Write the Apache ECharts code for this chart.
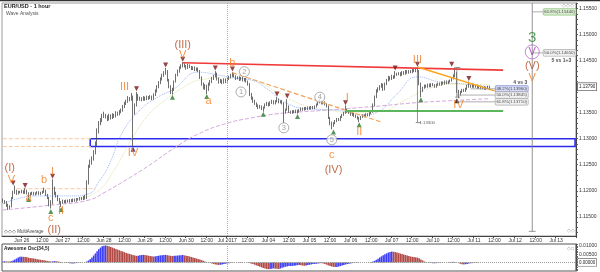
<!DOCTYPE html>
<html><head><meta charset="utf-8">
<script src="https://cdn.jsdelivr.net/npm/echarts@6/dist/echarts.min.js"></script>
<style>html,body{margin:0;padding:0;background:#fff}#c{width:600px;height:272px}</style>
</head><body><div id="c"></div>
<script>
// ---- time axis (hourly, weekends skipped) ----
const sessions = [['Jun 23',13,20],['Jun 25',21,23],['Jun 26',0,23],['Jun 27',0,23],['Jun 28',0,23],['Jun 29',0,23],['Jun 30',0,20],
  ['Jul 02',21,23],['Jul 03',0,23],['Jul 04',0,23],['Jul 05',0,23],['Jul 06',0,23],['Jul 07',0,20],
  ['Jul 09',21,23],['Jul 10',0,23],['Jul 11',0,23],['Jul 12',0,23],['Jul 13',0,11]];
const dayTickLabels = {'Jun 26':'Jun 26','Jun 27':'Jun 27','Jun 28':'Jun 28','Jun 29':'Jun 29','Jun 30':'Jun 30',
  'Jul 03':'Jul 2017','Jul 04':'Jul 04','Jul 05':'Jul 05','Jul 06':'Jul 06','Jul 07':'Jul 07',
  'Jul 10':'Jul 10','Jul 11':'Jul 11','Jul 12':'Jul 12','Jul 13':'Jul 13'};
const monthStartCategory = 'Jul 03 00:00';
const priceTickLabels = [1.115,1.120,1.125,1.130,1.135,1.145,1.150,1.155];
const aoTickLabels = [0.005,0.010];

// ---- EUR/USD 1h candles ----
const opens = [
1.1182,1.1180,1.1178,1.1172,1.1168,1.1170,1.1186,1.1196,1.1200,1.1195,1.1198,1.1197,
1.1199,1.1196,1.1200,1.1195,1.1192,1.1194,1.1196,1.1193,1.1195,1.1197,1.1194,1.1196,
1.1198,1.1200,1.1192,1.1186,1.1180,1.1176,1.1205,1.1195,1.1190,1.1183,1.1178,1.1177,
1.1180,1.1178,1.1181,1.1179,1.1182,1.1180,1.1183,1.1181,1.1184,1.1183,1.1186,1.1184,
1.1188,1.1186,1.1215,1.1248,1.1255,1.1262,1.1275,1.1290,1.1315,1.1330,1.1335,1.1344,
1.1346,1.1342,1.1338,1.1345,1.1340,1.1346,1.1343,1.1350,1.1347,1.1352,1.1355,1.1362,
1.1368,1.1372,1.1378,1.1375,1.1380,1.1350,1.1365,1.1382,1.1376,1.1378,1.1375,1.1379,
1.1376,1.1380,1.1378,1.1381,1.1377,1.1384,1.1392,1.1400,1.1408,1.1415,1.1422,1.1426,
1.1430,1.1412,1.1400,1.1392,1.1395,1.1410,1.1422,1.1430,1.1436,1.1440,1.1443,1.1440,
1.1436,1.1441,1.1438,1.1434,1.1437,1.1432,1.1435,1.1430,1.1418,1.1405,1.1398,1.1402,
1.1395,1.1405,1.1410,1.1416,1.1420,1.1425,1.1415,1.1410,1.1412,1.1408,1.1414,1.1410,
1.1416,1.1418,1.1422,1.1424,1.1420,1.1416,1.1418,1.1414,1.1417,1.1412,1.1415,1.1410,
1.1405,1.1385,1.1378,1.1372,1.1368,1.1364,1.1360,1.1362,1.1358,1.1360,1.1366,1.1368,
1.1365,1.1370,1.1372,1.1368,1.1372,1.1375,1.1370,1.1372,1.1368,1.1350,1.1356,1.1362,
1.1352,1.1350,1.1353,1.1351,1.1354,1.1352,1.1355,1.1358,1.1356,1.1359,1.1357,1.1360,
1.1358,1.1361,1.1359,1.1362,1.1366,1.1370,1.1372,1.1368,1.1370,1.1366,1.1362,1.1340,
1.1330,1.1326,1.1330,1.1334,1.1338,1.1336,1.1342,1.1346,1.1350,1.1356,1.1352,1.1350,
1.1346,1.1348,1.1344,1.1342,1.1340,1.1338,1.1342,1.1345,1.1343,1.1347,1.1345,1.1349,
1.1352,1.1365,1.1380,1.1392,1.1396,1.1400,1.1404,1.1395,1.1405,1.1412,1.1418,1.1415,
1.1420,1.1418,1.1425,1.1424,1.1426,1.1423,1.1428,1.1425,1.1430,1.1427,1.1430,1.1428,
1.1432,1.1430,1.1434,1.1430,1.1405,1.1392,1.1398,1.1402,1.1400,1.1404,1.1401,1.1405,
1.1403,1.1400,1.1404,1.1406,1.1404,1.1408,1.1406,1.1410,1.1407,1.1410,1.1412,1.1416,
1.1420,1.1425,1.1392,1.1385,1.1390,1.1394,1.1392,1.1396,1.1402,1.1402,1.1400,1.1404,
1.1400,1.1402,1.1398,1.1400,1.1397,1.1399,1.1396,1.1398,1.1400];
const closes = [
1.1180,1.1178,1.1172,1.1168,1.1170,1.1186,1.1196,1.1200,1.1195,1.1198,1.1197,1.1199,
1.1196,1.1200,1.1195,1.1192,1.1194,1.1196,1.1193,1.1195,1.1197,1.1194,1.1196,1.1198,
1.1200,1.1192,1.1186,1.1180,1.1176,1.1205,1.1195,1.1190,1.1183,1.1178,1.1177,1.1180,
1.1178,1.1181,1.1179,1.1182,1.1180,1.1183,1.1181,1.1184,1.1183,1.1186,1.1184,1.1188,
1.1186,1.1215,1.1248,1.1255,1.1262,1.1275,1.1290,1.1315,1.1330,1.1335,1.1344,1.1346,
1.1342,1.1338,1.1345,1.1340,1.1346,1.1343,1.1350,1.1347,1.1352,1.1355,1.1362,1.1368,
1.1372,1.1378,1.1375,1.1380,1.1350,1.1365,1.1382,1.1376,1.1378,1.1375,1.1379,1.1376,
1.1380,1.1378,1.1381,1.1377,1.1384,1.1392,1.1400,1.1408,1.1415,1.1422,1.1426,1.1430,
1.1412,1.1400,1.1392,1.1395,1.1410,1.1422,1.1430,1.1436,1.1440,1.1443,1.1440,1.1436,
1.1441,1.1438,1.1434,1.1437,1.1432,1.1435,1.1430,1.1418,1.1405,1.1398,1.1402,1.1395,
1.1405,1.1410,1.1416,1.1420,1.1425,1.1415,1.1410,1.1412,1.1408,1.1414,1.1410,1.1416,
1.1418,1.1422,1.1424,1.1420,1.1416,1.1418,1.1414,1.1417,1.1412,1.1415,1.1410,1.1405,
1.1385,1.1378,1.1372,1.1368,1.1364,1.1360,1.1362,1.1358,1.1360,1.1366,1.1368,1.1365,
1.1370,1.1372,1.1368,1.1372,1.1375,1.1370,1.1372,1.1368,1.1350,1.1356,1.1362,1.1352,
1.1350,1.1353,1.1351,1.1354,1.1352,1.1355,1.1358,1.1356,1.1359,1.1357,1.1360,1.1358,
1.1361,1.1359,1.1362,1.1366,1.1370,1.1372,1.1368,1.1370,1.1366,1.1362,1.1340,1.1330,
1.1326,1.1330,1.1334,1.1338,1.1336,1.1342,1.1346,1.1350,1.1356,1.1352,1.1350,1.1346,
1.1348,1.1344,1.1342,1.1340,1.1338,1.1342,1.1345,1.1343,1.1347,1.1345,1.1349,1.1352,
1.1365,1.1380,1.1392,1.1396,1.1400,1.1404,1.1395,1.1405,1.1412,1.1418,1.1415,1.1420,
1.1418,1.1425,1.1424,1.1426,1.1423,1.1428,1.1425,1.1430,1.1427,1.1430,1.1428,1.1432,
1.1430,1.1434,1.1430,1.1405,1.1392,1.1398,1.1402,1.1400,1.1404,1.1401,1.1405,1.1403,
1.1400,1.1404,1.1406,1.1404,1.1408,1.1406,1.1410,1.1407,1.1410,1.1412,1.1416,1.1420,
1.1425,1.1392,1.1385,1.1390,1.1394,1.1392,1.1396,1.1402,1.1402,1.1400,1.1404,1.1400,
1.1402,1.1398,1.1400,1.1397,1.1399,1.1396,1.1398,1.1400,1.1398];
const highs = [
1.1185,1.1182,1.1180,1.1175,1.1172,1.1188,1.1200,1.1210,1.1202,1.1200,1.1200,1.1202,
1.1201,1.1205,1.1202,1.1197,1.1197,1.1198,1.1198,1.1197,1.1199,1.1199,1.1198,1.1200,
1.1206,1.1202,1.1194,1.1188,1.1182,1.1222,1.1208,1.1198,1.1192,1.1186,1.1180,1.1183,
1.1182,1.1183,1.1183,1.1184,1.1184,1.1185,1.1185,1.1186,1.1186,1.1188,1.1188,1.1190,
1.1192,1.1220,1.1250,1.1260,1.1266,1.1278,1.1295,1.1320,1.1334,1.1340,1.1348,1.1352,
1.1348,1.1345,1.1348,1.1347,1.1349,1.1348,1.1353,1.1352,1.1355,1.1358,1.1365,1.1371,
1.1375,1.1382,1.1380,1.1388,1.1383,1.1368,1.1390,1.1386,1.1381,1.1380,1.1382,1.1381,
1.1383,1.1382,1.1384,1.1383,1.1387,1.1395,1.1403,1.1411,1.1418,1.1425,1.1430,1.1436,
1.1432,1.1415,1.1403,1.1398,1.1412,1.1425,1.1433,1.1439,1.1443,1.1447,1.1445,1.1442,
1.1444,1.1443,1.1440,1.1439,1.1439,1.1437,1.1437,1.1432,1.1420,1.1408,1.1405,1.1404,
1.1408,1.1413,1.1419,1.1423,1.1430,1.1427,1.1418,1.1415,1.1414,1.1416,1.1416,1.1419,
1.1421,1.1425,1.1428,1.1426,1.1422,1.1420,1.1420,1.1419,1.1419,1.1417,1.1417,1.1412,
1.1407,1.1388,1.1381,1.1375,1.1370,1.1366,1.1365,1.1364,1.1362,1.1368,1.1371,1.1370,
1.1372,1.1375,1.1374,1.1374,1.1380,1.1377,1.1374,1.1374,1.1370,1.1358,1.1376,1.1364,
1.1354,1.1355,1.1355,1.1356,1.1356,1.1357,1.1360,1.1360,1.1361,1.1361,1.1362,1.1362,
1.1363,1.1363,1.1364,1.1368,1.1372,1.1378,1.1374,1.1372,1.1372,1.1368,1.1364,1.1342,
1.1333,1.1332,1.1336,1.1340,1.1340,1.1344,1.1348,1.1352,1.1364,1.1358,1.1354,1.1352,
1.1350,1.1350,1.1346,1.1344,1.1342,1.1344,1.1347,1.1347,1.1349,1.1349,1.1351,1.1355,
1.1368,1.1383,1.1395,1.1399,1.1403,1.1407,1.1406,1.1408,1.1415,1.1421,1.1420,1.1423,
1.1422,1.1430,1.1427,1.1428,1.1428,1.1430,1.1430,1.1432,1.1432,1.1432,1.1432,1.1434,
1.1434,1.1436,1.1437,1.1432,1.1408,1.1400,1.1404,1.1404,1.1406,1.1406,1.1407,1.1407,
1.1405,1.1406,1.1408,1.1408,1.1410,1.1410,1.1412,1.1412,1.1412,1.1414,1.1418,1.1424,
1.1437,1.1428,1.1394,1.1392,1.1396,1.1396,1.1398,1.1404,1.1410,1.1404,1.1406,1.1406,
1.1404,1.1404,1.1402,1.1402,1.1401,1.1401,1.1400,1.1402,1.1402];
const lows = [
1.1177,1.1175,1.1169,1.1163,1.1165,1.1168,1.1184,1.1194,1.1192,1.1193,1.1195,1.1195,
1.1194,1.1194,1.1193,1.1188,1.1190,1.1192,1.1191,1.1191,1.1193,1.1192,1.1192,1.1194,
1.1196,1.1190,1.1184,1.1170,1.1166,1.1174,1.1192,1.1187,1.1180,1.1175,1.1169,1.1175,
1.1176,1.1176,1.1177,1.1177,1.1178,1.1178,1.1179,1.1179,1.1181,1.1181,1.1182,1.1182,
1.1183,1.1184,1.1212,1.1244,1.1250,1.1258,1.1270,1.1286,1.1310,1.1326,1.1332,1.1340,
1.1339,1.1334,1.1335,1.1337,1.1338,1.1340,1.1341,1.1344,1.1345,1.1349,1.1352,1.1359,
1.1365,1.1369,1.1372,1.1373,1.1285,1.1346,1.1362,1.1373,1.1373,1.1372,1.1373,1.1373,
1.1374,1.1375,1.1376,1.1374,1.1375,1.1382,1.1389,1.1397,1.1405,1.1412,1.1419,1.1423,
1.1410,1.1397,1.1386,1.1385,1.1392,1.1408,1.1420,1.1427,1.1434,1.1437,1.1437,1.1433,
1.1434,1.1436,1.1432,1.1432,1.1430,1.1430,1.1428,1.1415,1.1402,1.1395,1.1394,1.1386,
1.1392,1.1402,1.1407,1.1413,1.1418,1.1412,1.1406,1.1407,1.1405,1.1406,1.1407,1.1408,
1.1413,1.1416,1.1419,1.1418,1.1413,1.1414,1.1411,1.1412,1.1410,1.1410,1.1408,1.1402,
1.1382,1.1375,1.1369,1.1365,1.1361,1.1357,1.1358,1.1355,1.1352,1.1358,1.1363,1.1362,
1.1363,1.1367,1.1366,1.1366,1.1370,1.1368,1.1368,1.1366,1.1330,1.1348,1.1354,1.1350,
1.1348,1.1348,1.1349,1.1349,1.1348,1.1350,1.1353,1.1354,1.1354,1.1355,1.1355,1.1356,
1.1356,1.1357,1.1357,1.1360,1.1364,1.1368,1.1366,1.1366,1.1364,1.1360,1.1338,1.1326,
1.1318,1.1323,1.1328,1.1332,1.1334,1.1334,1.1340,1.1344,1.1348,1.1350,1.1348,1.1344,
1.1344,1.1342,1.1340,1.1337,1.1332,1.1336,1.1340,1.1341,1.1341,1.1343,1.1343,1.1347,
1.1350,1.1362,1.1378,1.1389,1.1393,1.1398,1.1392,1.1393,1.1403,1.1410,1.1412,1.1413,
1.1415,1.1416,1.1421,1.1422,1.1420,1.1421,1.1423,1.1423,1.1425,1.1425,1.1426,1.1426,
1.1428,1.1428,1.1428,1.1403,1.1380,1.1390,1.1396,1.1398,1.1398,1.1399,1.1399,1.1401,
1.1398,1.1398,1.1402,1.1402,1.1402,1.1404,1.1404,1.1405,1.1405,1.1408,1.1410,1.1414,
1.1418,1.1388,1.1378,1.1383,1.1388,1.1390,1.1390,1.1394,1.1398,1.1398,1.1398,1.1398,
1.1398,1.1396,1.1396,1.1395,1.1395,1.1394,1.1394,1.1396,1.1396];

// ---- Awesome Oscillator (34,5) ----
const aoValues = [
0.0006,0.0007,0.0006,0.0005,0.0005,0.0008,0.0012,0.0018,0.0024,0.0030,0.0034,0.0035,
0.0034,0.0033,0.0031,0.0029,0.0027,0.0026,0.0024,0.0022,0.0020,0.0018,0.0016,0.0014,
0.0013,0.0011,0.0009,0.0007,0.0005,0.0006,0.0008,0.0007,0.0006,0.0004,0.0002,0.0000,
-0.0002,-0.0003,-0.0004,-0.0005,-0.0006,-0.0006,-0.0005,-0.0004,-0.0003,-0.0002,-0.0001,0.0000,
0.0001,0.0005,0.0012,0.0020,0.0030,0.0042,0.0055,0.0068,0.0080,0.0090,0.0098,0.0102,
0.0103,0.0101,0.0098,0.0094,0.0090,0.0086,0.0082,0.0078,0.0074,0.0070,0.0066,0.0062,
0.0058,0.0055,0.0052,0.0048,0.0045,0.0042,0.0040,0.0041,0.0043,0.0045,0.0046,0.0045,
0.0043,0.0041,0.0039,0.0037,0.0036,0.0037,0.0039,0.0041,0.0043,0.0044,0.0045,0.0046,
0.0044,0.0042,0.0040,0.0039,0.0040,0.0041,0.0042,0.0043,0.0044,0.0045,0.0043,0.0041,
0.0039,0.0036,0.0033,0.0030,0.0027,0.0024,0.0021,0.0018,0.0014,0.0010,0.0006,0.0003,
0.0000,-0.0003,-0.0006,-0.0009,-0.0012,-0.0014,-0.0015,-0.0014,-0.0012,-0.0010,-0.0008,-0.0006,
-0.0005,-0.0003,-0.0002,-0.0001,0.0000,0.0001,0.0002,0.0002,0.0001,0.0000,-0.0001,-0.0002,
-0.0004,-0.0007,-0.0010,-0.0014,-0.0018,-0.0022,-0.0026,-0.0030,-0.0034,-0.0037,-0.0040,-0.0041,
-0.0040,-0.0038,-0.0036,-0.0038,-0.0039,-0.0040,-0.0037,-0.0033,-0.0029,-0.0026,-0.0024,-0.0022,
-0.0022,-0.0021,-0.0020,-0.0018,-0.0016,-0.0015,-0.0017,-0.0019,-0.0020,-0.0018,-0.0016,-0.0014,
-0.0012,-0.0010,-0.0009,-0.0008,-0.0006,-0.0005,-0.0004,-0.0006,-0.0010,-0.0014,-0.0018,-0.0022,
-0.0025,-0.0027,-0.0028,-0.0027,-0.0025,-0.0022,-0.0019,-0.0016,-0.0013,-0.0010,-0.0008,-0.0006,
-0.0004,-0.0003,-0.0002,-0.0002,-0.0001,0.0000,0.0000,-0.0001,-0.0001,0.0000,0.0001,0.0002,
0.0005,0.0010,0.0016,0.0023,0.0030,0.0037,0.0043,0.0049,0.0055,0.0060,0.0064,0.0066,
0.0065,0.0063,0.0060,0.0057,0.0054,0.0051,0.0048,0.0045,0.0042,0.0039,0.0036,0.0034,
0.0033,0.0031,0.0029,0.0025,0.0018,0.0012,0.0006,0.0002,-0.0001,-0.0003,-0.0004,-0.0005,
-0.0005,-0.0004,-0.0003,-0.0002,-0.0001,-0.0001,0.0000,0.0000,0.0001,0.0002,0.0003,0.0004,
0.0003,0.0000,-0.0004,-0.0008,-0.0011,-0.0012,-0.0011,-0.0009,-0.0007,-0.0005,-0.0004,-0.0003,
-0.0002,-0.0002,-0.0001,0.0000,0.0000,-0.0001,-0.0001,0.0000,0.0000];

// ---- moving averages (read at sample bars) ----
const maSlow = [[0,1.1163],[30,1.1173],[50,1.1182],[60,1.1198],[70,1.1217],[85,1.1248],[100,1.1282],[114,1.1309],[130,1.1329],[145,1.1340],[160,1.1348],[175,1.1352],[190,1.1355],[205,1.1359],[220,1.1363],[240,1.1369],[260,1.1373],[284,1.1377]];
const maFast = [[0,1.1175],[20,1.1190],[40,1.1190],[50,1.1194],[56,1.1217],[62,1.1250],[70,1.1313],[80,1.1355],[90,1.1379],[100,1.1396],[114,1.1428],[125,1.1423],[135,1.1417],[145,1.1413],[155,1.1394],[165,1.1369],[180,1.1357],[195,1.1355],[210,1.1346],[220,1.1354],[230,1.1386],[242,1.1419],[255,1.1409],[270,1.1405],[284,1.1400]];
const maMid = [[45,1.1186],[55,1.1198],[65,1.1240],[75,1.1298],[85,1.1346],[95,1.1375],[105,1.1398],[115,1.1413],[130,1.1417],[145,1.1413],[160,1.1390],[175,1.1365],[190,1.1355],[205,1.1350],[220,1.1352],[235,1.1375],[250,1.1398],[265,1.1405],[284,1.1404]];

// ---- drawn lines ----
const redTrend = [[105,1.1446],[292,1.1432]];
const orangeDashTrend = [[134,1.1427],[221,1.1332]];
const orangeTrend = [[242,1.1438],[287,1.1392]];
const greenLevel = [[200,1.13535],[292,1.13535]];
const peachLevels = [[[0,1.1300],[52,1.1300]],[[0,1.1285],[52,1.1285]],[[8,1.1204],[54,1.1204]]];
const blueZone = [[51,1.1300],[334,1.1285]];
const measureLines = [[[242,1.1437],[242,1.1331]],[[265,1.1437],[265,1.1380]],[[309,1.1561],[309,1.1122]],
  [[240.5,1.1331],[243.5,1.1331]],[[263.5,1.1437],[266.5,1.1437]],[[263.5,1.1380],[266.5,1.1380]],[[307,1.1122],[311,1.1122]]];
const fibConnectors = [[[273,1.1396],[290,1.1396]],[[265,1.1384],[290,1.1384]],[[264,1.1371],[290,1.1371]],[[309,1.1544],[319,1.1544]],[[309,1.1465],[319,1.1465]]];

// ---- annotations ----
const orangeLabels = [[5,1.1221,'V'],[15,1.1186,'a'],[24,1.1221,'b'],[29,1.1236,'I'],[28,1.1148,'c'],[34,1.1161,'II'],
  [71,1.1400,'III'],[76,1.1273,'IV'],[105,1.1461,'V'],[120,1.1373,'a'],[134,1.1446,'b'],[192,1.1269,'c'],
  [201,1.1379,'I'],[208,1.1313,'II'],[242,1.1452,'III'],[266,1.1365,'IV'],[309,1.1417,'V']];
const brownLabels = [[4,1.1244,'(I)'],[30,1.1125,'(II)'],[105,1.1480,'(III)'],[193,1.1240,'(IV)'],[309,1.1440,'(V)']];
const circledLabels = [[139,1.1390,'1'],[141,1.1429,'2'],[164,1.1321,'3'],[185,1.1380,'4'],[192,1.1298,'5']];
const greenBigLabels = [[309,1.1494,'3']];
const purpleCircleLabels = [[309,1.1467,'V']];
const fractalHighs = [[6,1.1215],[13,1.1210],[29,1.1228],[78,1.1396],[95,1.1442],[105,1.1453],[124,1.1436],[134,1.1434],[160,1.1386],[166,1.1382],[200,1.1369],[229,1.1436],[242,1.1443],[262,1.1443],[272,1.1416]];
const fractalLows = [[15,1.1183],[28,1.1160],[34,1.1164],[99,1.1380],[119,1.1381],[152,1.1347],[172,1.1343],[193,1.1313],[208,1.1327],[244,1.1375]];
const blackLows = [[265,1.1373]];
const blueLows = [[76,1.1280]];
const fibBoxBlue = [[297,1.1396,'38.2%(1.13960)']];
const fibBoxGray = [[297,1.1384,'50.0%(1.13845)'],[297,1.1371,'61.8%(1.13710)'],[325,1.1465,'50.0%(1.14650)']];
const fibBoxGreen = [[325,1.1544,'61.8%(1.15440)']];
const noteLabels = [[302,1.1408,'4 vs 3'],[326,1.1450,'5 vs 1+3']];
const measureValueLabels = [[242,1.1331,'1.13300']];
const priceTags = [[1.13990,'1.13990','#fff'],[1.13910,'1.13910','#c9cdf5'],[1.13790,'1.13790','#fff']];

// ---- build ----
const FONT = '"Liberation Sans", Arial, sans-serif';
const categories = [];
sessions.forEach(([d,h0,h1]) => { for (let h=h0; h<=h1; h++) categories.push(d+' '+String(h).padStart(2,'0')+':00'); });
const showTick = (idx, val) => { const p = val.split(' '); const day = p[0]+' '+p[1]; return (p[2]==='00:00'||p[2]==='12:00') && dayTickLabels[day] !== undefined; };
const fmtTick = (val) => { const p = val.split(' '); return p[2]==='00:00' ? dayTickLabels[p[0]+' '+p[1]] : '12:00'; };
const candles = closes.map((c,i) => [opens[i], c, lows[i], highs[i]]);
const priceTickMarks = []; for (let k = 1112; k <= 1156; k++) priceTickMarks.push(+(k/1000).toFixed(3));
const aoTickMarks = [-0.005,-0.004,-0.003,-0.002,-0.001,0,0.001,0.002,0.003,0.004,0.005,0.006,0.007,0.008,0.009,0.010,0.011];
const aoUp = '#3f3ff5', aoDown = '#b24a45';

function seg(data, color, width, type, z) {
  return {type:'line', xAxisIndex:0, yAxisIndex:0, data, symbol:'none', silent:true, z:z||5,
    lineStyle:{color, width, type:type||'solid'}, animation:false};
}
function textSeries(data, label, extra) {
  return Object.assign({type:'scatter', xAxisIndex:0, yAxisIndex:0, silent:true, z:12, symbolSize:0,
    data: data.map(d => ({value:[d[0], d[1]], name:d[2]})),
    label: Object.assign({show:true, position:'inside', formatter:'{b}', fontFamily:FONT}, label)}, extra||{});
}
function markerSeries(data, color, rotate, size) {
  return {type:'scatter', xAxisIndex:0, yAxisIndex:0, silent:true, z:8, symbol:'triangle', symbolRotate:rotate,
    symbolSize:size||5, data, itemStyle:{color}};
}

const series = [
  {type:'candlestick', xAxisIndex:0, yAxisIndex:0, data:candles, barWidth:'60%', z:4,
   itemStyle:{color:'#e6e6e6', color0:'#4a4a4a', borderColor:'#4a4a4a', borderColor0:'#4a4a4a', borderWidth:0.8},
   markArea:{silent:true, itemStyle:{color:'rgba(0,0,0,0)', borderColor:'#2b2bf0', borderWidth:1.6},
     data:[[{coord:blueZone[0]},{coord:blueZone[1]}]]},
   markLine:{silent:true, symbol:'none', animation:false,
     data:[{xAxis:monthStartCategory, lineStyle:{color:'#aaa', type:'dotted', width:1}, label:{show:false}}].concat(
       priceTags.map(t => ({yAxis:t[0], lineStyle:{color:'rgba(0,0,0,0)'},
         label:{show:true, position:'end', distance:2, formatter:t[1], fontSize:4.5, fontFamily:FONT, color:'#222',
           backgroundColor:t[2], borderColor:'#666', borderWidth:0.6, padding:[1,1]}})))}},
  Object.assign(seg(maSlow, '#d4a6dc', 1, 'dashed', 3), {smooth:true}),
  Object.assign(seg(maMid, '#e2e3a8', 1, 'dotted', 3), {smooth:true}),
  Object.assign(seg(maFast, '#9db7f2', 1, 'dotted', 3), {smooth:true}),
  ...peachLevels.map(l => seg(l, '#f7c9a3', 1, 'dashed', 3)),
  seg(redTrend, '#f03a3a', 1.6, 'solid', 6),
  seg(orangeDashTrend, '#f7a055', 1.2, 'dashed', 6),
  seg(orangeTrend, '#ffa31a', 1.5, 'solid', 6),
  seg(greenLevel, '#5cb65c', 2, 'solid', 6),
  ...measureLines.map(l => seg(l, '#777', 0.8, 'solid', 6)),
  ...fibConnectors.map(l => seg(l, '#999', 0.8, 'solid', 6)),
  markerSeries(fractalHighs, '#7a1515', 180),
  markerSeries(fractalLows, '#2e7a2e', 0),
  markerSeries(blackLows, '#111', 0),
  markerSeries(blueLows, '#1a237e', 0),
  textSeries(orangeLabels, {fontSize:11, color:'#f47a1f'}),
  textSeries(brownLabels, {fontSize:11, color:'#b0471c'}),
  textSeries(circledLabels, {fontSize:7.5, color:'#8a8a8a'}, {symbol:'circle', symbolSize:10, itemStyle:{color:'#fff', borderColor:'#9a9a9a', borderWidth:1}}),
  textSeries(greenBigLabels, {fontSize:15, color:'#2f8a2f'}),
  textSeries(purpleCircleLabels, {fontSize:11, color:'#9a2fb8'}, {symbol:'circle', symbolSize:14, itemStyle:{color:'rgba(255,255,255,0)', borderColor:'#b768d0', borderWidth:1}}),
  textSeries(fibBoxBlue, {fontSize:4.3, color:'#222', backgroundColor:'#cdd3f4', borderColor:'#6a74c4', borderWidth:0.6, padding:[1,1], borderRadius:1}),
  textSeries(fibBoxGray, {fontSize:4.3, color:'#222', backgroundColor:'#efefef', borderColor:'#999', borderWidth:0.6, padding:[1,1], borderRadius:1}),
  textSeries(fibBoxGreen, {fontSize:4.3, color:'#222', backgroundColor:'#cfeac6', borderColor:'#79b56c', borderWidth:0.6, padding:[1,1], borderRadius:1}),
  textSeries(noteLabels, {fontSize:5, fontWeight:'bold', color:'#222'}),
  textSeries(measureValueLabels, {fontSize:4.3, color:'#333', position:'right', distance:2}),
  {type:'bar', xAxisIndex:1, yAxisIndex:1, data:aoValues, barCategoryGap:'10%', silent:true,
   itemStyle:{color: p => (p.dataIndex > 0 && aoValues[p.dataIndex] < aoValues[p.dataIndex-1]) ? aoDown : aoUp},
   markLine:{silent:true, symbol:'none', animation:false, data:[
     {yAxis:0, lineStyle:{color:'#999', type:'dotted', width:1},
      label:{show:true, position:'end', distance:2, formatter:'0.00000', fontSize:4.5, fontFamily:FONT, color:'#222', backgroundColor:'#fff', borderColor:'#666', borderWidth:0.6, padding:[1,1]}},
     {xAxis:monthStartCategory, lineStyle:{color:'#aaa', type:'dotted', width:1}, label:{show:false}}]}}
];

const option = {
  animation:false,
  backgroundColor:'#fff',
  textStyle:{fontFamily:FONT},
  grid:[
    {left:2, right:21, top:3, bottom:36, show:true, borderColor:'#9a9a9a', borderWidth:1, backgroundColor:'#fff'},
    {left:2, right:21, top:244, bottom:1, show:true, borderColor:'#555', borderWidth:1, backgroundColor:'#fff'}
  ],
  xAxis:[
    {type:'category', gridIndex:0, data:categories, boundaryGap:true,
     axisLine:{lineStyle:{color:'#444', width:1}},
     axisTick:{show:true, interval:showTick, length:2, lineStyle:{color:'#444'}},
     axisLabel:{interval:showTick, formatter:fmtTick, fontSize:5, color:'#333', margin:2, fontFamily:FONT},
     splitLine:{show:false}},
    {type:'category', gridIndex:1, data:categories, boundaryGap:true,
     axisLine:{show:false}, axisTick:{show:false}, axisLabel:{show:false}, splitLine:{show:false}}
  ],
  yAxis:[
    {type:'value', gridIndex:0, position:'right', min:1.1113, max:1.1561,
     axisLine:{show:true, lineStyle:{color:'#444'}},
     axisTick:{show:true, length:2, customValues:priceTickMarks, lineStyle:{color:'#555'}},
     splitLine:{show:false},
     axisLabel:{fontSize:5, color:'#333', margin:3, fontFamily:FONT, customValues:priceTickLabels,
       formatter: v => (+v).toFixed(5)}},
    {type:'value', gridIndex:1, position:'right', min:-0.0052, max:0.0112,
     axisLine:{show:true, lineStyle:{color:'#444'}},
     axisTick:{show:true, length:2, customValues:aoTickMarks, lineStyle:{color:'#555'}},
     splitLine:{show:false},
     axisLabel:{fontSize:5, color:'#333', margin:3, fontFamily:FONT, customValues:aoTickLabels,
       formatter: v => (+v).toFixed(5)}}
  ],
  graphic:[
    {type:'line', shape:{x1:0, y1:0.5, x2:600, y2:0.5}, style:{stroke:'#333', lineWidth:1.5}, z:100},
    {type:'text', left:4, top:3, z:100, style:{text:'EUR/USD - 1 hour', font:'bold 5.5px '+FONT, fill:'#222'}},
    {type:'text', left:6, top:11, z:100, style:{text:'Wave Analysis', font:'5px '+FONT, fill:'#555'}},
    {type:'text', left:4, top:229, z:100, style:{text:'◇◇◇ MultiAverage', font:'4.5px '+FONT, fill:'#444'}},
    {type:'text', left:4, top:246, z:100, style:{text:'Awesome Osc(34,5)', font:'bold 4.8px '+FONT, fill:'#222'}},
    {type:'text', left:562, top:3, z:100, style:{text:'◇◇◇', font:'5px '+FONT, fill:'#999'}},
    {type:'text', left:567, top:228, z:100, style:{text:'◇◇', font:'5px '+FONT, fill:'#999'}},
    {type:'text', left:567, top:246, z:100, style:{text:'◇□', font:'5px '+FONT, fill:'#999'}}
  ],
  series
};
const chart = echarts.init(document.getElementById('c'), null, {renderer:'canvas', width:600, height:272});
chart.setOption(option);
</script>
</body></html>
